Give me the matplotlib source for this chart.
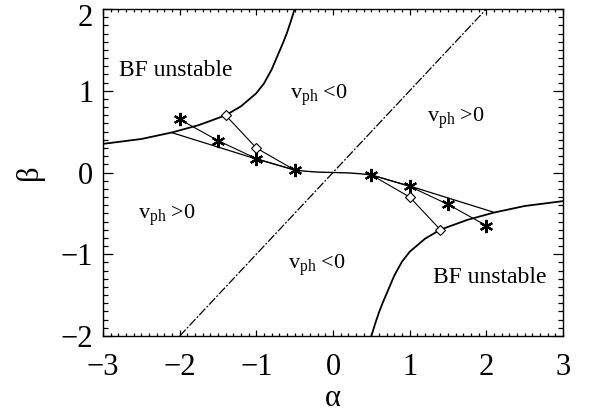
import matplotlib
matplotlib.use("Agg")
import matplotlib.pyplot as plt
from matplotlib.ticker import MultipleLocator, FuncFormatter

plt.rcParams['font.family'] = ['Liberation Serif', 'DejaVu Serif']
plt.rcParams['mathtext.fontset'] = 'custom'
plt.rcParams['mathtext.rm'] = 'Liberation Serif'
plt.rcParams['mathtext.it'] = 'Liberation Serif:italic'

# BF stability boundaries
bf_left_a = [-3.0, -2.5, -2.1, -1.75, -1.4, -1.2, -1.0, -0.9, -0.8, -0.7, -0.65, -0.6, -0.55, -0.5]
bf_left_b = [0.35, 0.41, 0.49, 0.58, 0.70, 0.81, 0.97, 1.09, 1.26, 1.48, 1.59, 1.71, 1.85, 2.0]
bf_right_a = [3.0, 2.5, 2.1, 1.75, 1.4, 1.2, 1.0, 0.9, 0.8, 0.7, 0.65, 0.6, 0.55, 0.5]
bf_right_b = [-0.35, -0.41, -0.49, -0.58, -0.70, -0.81, -0.97, -1.09, -1.26, -1.48, -1.59, -1.71, -1.85, -2.0]

# v_ph = 0 line
vph_a = [-2.0, 2.0]
vph_b = [-2.0, 2.0]

# star series
star_left_a = [-2.0, -1.5, -1.0, -0.5]
star_left_b = [0.65, 0.39, 0.17, 0.03]
star_right_a = [0.5, 1.0, 1.5, 2.0]
star_right_b = [-0.03, -0.17, -0.39, -0.65]

# diamond series (last/first point shared with star at |alpha| = 0.5)
dia_left_a = [-1.4, -1.0, -0.5]
dia_left_b = [0.70, 0.30, 0.03]
dia_right_a = [0.5, 1.0, 1.4]
dia_right_b = [-0.03, -0.30, -0.70]

# third (unmarked) line
line_left_a = [-2.11, -1.0, -0.5]
line_left_b = [0.49, 0.165, 0.03]
line_right_a = [0.5, 1.0, 2.11]
line_right_b = [-0.03, -0.165, -0.49]

# central curve
mid_a = [-0.5, -0.35, -0.2, 0.0, 0.2, 0.35, 0.5]
mid_b = [0.03, 0.015, 0.005, 0.0, -0.005, -0.015, -0.03]

fig = plt.figure(figsize=(5.92, 4.18), dpi=100)
ax = fig.add_axes([103/592, (418-336)/418, 460/592, 327/418])

ax.plot(bf_left_a, bf_left_b, color='black', lw=1.3)
ax.plot(bf_right_a, bf_right_b, color='black', lw=1.3)
ax.plot(vph_a, vph_b, color='black', lw=0.9, linestyle=(0, (7, 1.5, 1.5, 1.5)))

for a, b in [(line_left_a, line_left_b), (line_right_a, line_right_b)]:
    ax.plot(a, b, color='black', lw=0.9)
ax.plot(mid_a, mid_b, color='black', lw=1.0)
for a, b in [(star_left_a, star_left_b), (star_right_a, star_right_b)]:
    ax.plot(a, b, color='black', lw=0.8, marker=(6, 2, 0), ms=9.5, mew=1.6)

ax.plot(dia_left_a, dia_left_b, color='black', lw=0.8)
ax.plot(dia_left_a[:-1], dia_left_b[:-1], linestyle='none', marker='D', ms=5.2,
        mfc='white', mec='black', mew=0.8)
ax.plot(dia_right_a, dia_right_b, color='black', lw=0.8)
ax.plot(dia_right_a[1:], dia_right_b[1:], linestyle='none', marker='D', ms=5.2,
        mfc='white', mec='black', mew=0.8)

ax.set_xlim(-3, 3)
ax.set_ylim(-2, 2)
ax.xaxis.set_major_locator(MultipleLocator(1))
ax.xaxis.set_minor_locator(MultipleLocator(0.1))
ax.yaxis.set_major_locator(MultipleLocator(1))
ax.yaxis.set_minor_locator(MultipleLocator(0.1))


def yfmt(v, pos):
    if abs(v - 2) < 1e-9:
        return ''
    return '\u2212%d' % abs(round(v)) if v < -1e-9 else '%d' % round(v)


ax.yaxis.set_major_formatter(FuncFormatter(yfmt))
ax.tick_params(axis='both', which='both', direction='in', top=True, right=True, width=0.9)
ax.tick_params(axis='x', which='major', length=4.5, labelsize=22, pad=12)
ax.tick_params(axis='x', which='minor', length=2.2)
ax.tick_params(axis='y', which='major', length=7.2, labelsize=22, pad=7)
ax.tick_params(axis='y', which='minor', length=3.6)
for s in ax.spines.values():
    s.set_linewidth(1.0)

# top y tick label, nudged down so it stays inside the canvas
ax.annotate('2', xy=(0, 1), xycoords='axes fraction', xytext=(-7, -4),
            textcoords='offset points', ha='right', va='center_baseline', fontsize=22)

ax.set_xlabel('α', fontsize=22, labelpad=2)
ax.set_ylabel('β', fontsize=22, labelpad=12)

ax.text(-2.05, 1.25, 'BF unstable', fontsize=17, ha='center', va='center')
ax.text(2.04, -1.29, 'BF unstable', fontsize=17, ha='center', va='center')
vfs = 16
ax.text(-0.56, 0.95, r'v$_{\rm ph}$ <0', fontsize=vfs, ha='left', va='center')
ax.text(1.23, 0.66, r'v$_{\rm ph}$ >0', fontsize=vfs, ha='left', va='center')
ax.text(-2.55, -0.52, r'v$_{\rm ph}$ >0', fontsize=vfs, ha='left', va='center')
ax.text(-0.59, -1.13, r'v$_{\rm ph}$ <0', fontsize=vfs, ha='left', va='center')

fig.savefig('out.png', dpi=100)
